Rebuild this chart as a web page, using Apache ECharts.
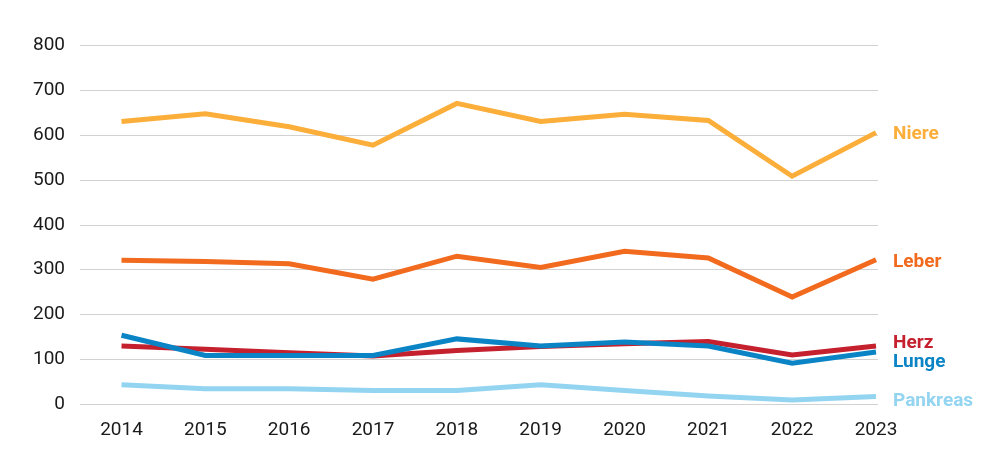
<!DOCTYPE html>
<html>
<head>
<meta charset="utf-8">
<script src="https://cdn.jsdelivr.net/npm/echarts@6/dist/echarts.min.js"></script>
<style>
html,body{margin:0;padding:0;background:#fff;}
#chart{width:1000px;height:476px;}
</style>
</head>
<body>
<div id="chart"></div>
<script>
var years = ['2014','2015','2016','2017','2018','2019','2020','2021','2022','2023'];
var yTicks = [0, 100, 200, 300, 400, 500, 600, 700, 800];
var niere    = [630, 647, 618, 577, 670, 630, 646, 632, 508, 605];
var leber    = [321, 318, 313, 279, 330, 305, 341, 326, 239, 322];
var herz     = [130, 123, 115, 108, 120, 129, 135, 140, 110, 130];
var lunge    = [154, 109, 109, 109, 146, 130, 139, 130, 92, 117];
var pankreas = [44, 35, 35, 31, 31, 44, 31, 19, 10, 18];

var seriesDefs = [
  {name:'Niere', data:niere, color:'#FBAE3A', dy:2},
  {name:'Leber', data:leber, color:'#F16A1E', dy:2},
  {name:'Herz', data:herz, color:'#C5202E', dy:-3},
  {name:'Lunge', data:lunge, color:'#0B84C6', dy:10},
  {name:'Pankreas', data:pankreas, color:'#93D4F1', dy:5}
];

var chart = echarts.init(document.getElementById('chart'), null, {renderer:'canvas'});
var FONT = 'Roboto';
chart.setOption({
  animation:false,
  backgroundColor:'#ffffff',
  grid:[
    {left:80, right:122, top:45, bottom:71.5},
    {left:121.5, right:124, top:45, bottom:71.5}
  ],
  xAxis:[
    {gridIndex:0, type:'value', min:0, max:1, show:false},
    {gridIndex:1, type:'category', data:years, boundaryGap:false,
     axisLine:{show:false}, axisTick:{show:false}, splitLine:{show:false},
     axisLabel:{margin:16, fontSize:19, color:'#1a1a1a', fontFamily:FONT}}
  ],
  yAxis:[
    {gridIndex:0, type:'value', min:yTicks[0], max:yTicks[yTicks.length-1], interval:100,
     axisLine:{show:false}, axisTick:{show:false},
     axisLabel:{margin:15, fontSize:19, color:'#1a1a1a', fontFamily:FONT},
     splitLine:{show:true, lineStyle:{color:'#d2d2d2', width:1}}},
    {gridIndex:1, type:'value', min:yTicks[0], max:yTicks[yTicks.length-1], interval:100, show:false}
  ],
  series: seriesDefs.map(function(s){
    return {
      name:s.name, type:'line', xAxisIndex:1, yAxisIndex:1,
      data:s.data, symbol:'none', smooth:false,
      lineStyle:{color:s.color, width:5, join:'miter'},
      itemStyle:{color:s.color},
      endLabel:{show:true, formatter:'{a}', distance:17, offset:[0, s.dy],
        color:s.color, fontSize:19, fontWeight:'bold', fontFamily:FONT}
    };
  })
});
</script>
</body>
</html>
